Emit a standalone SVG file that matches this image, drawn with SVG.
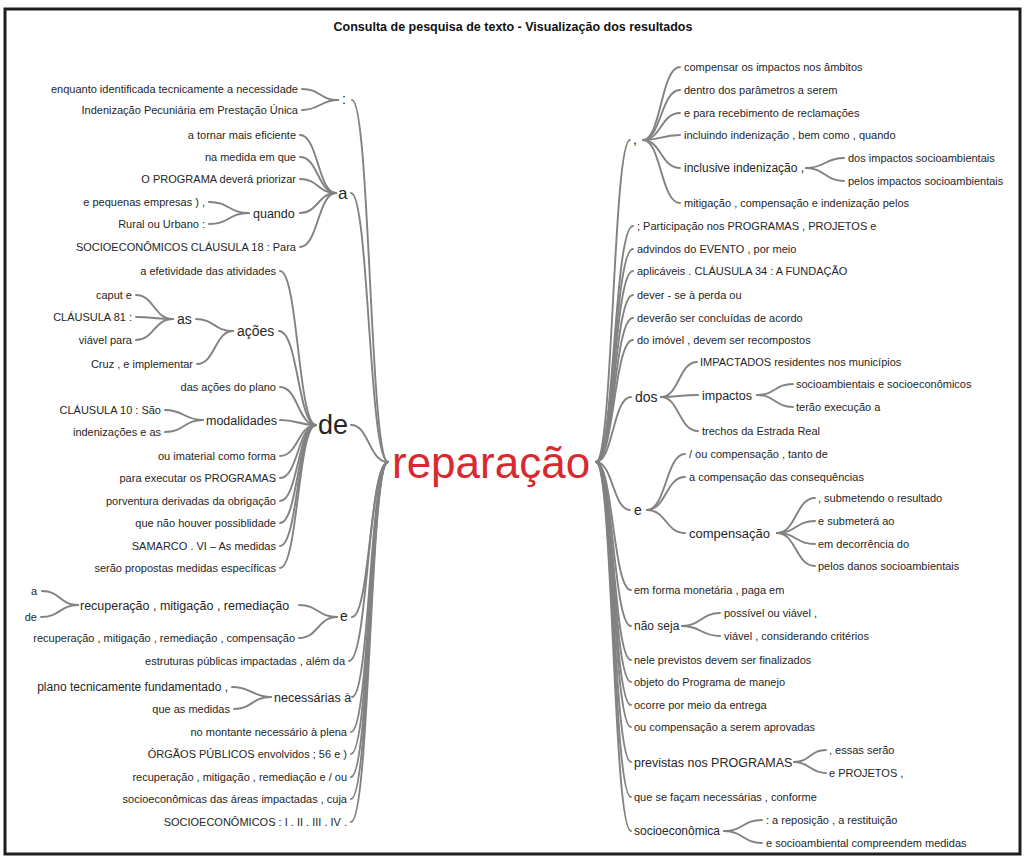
<svg xmlns="http://www.w3.org/2000/svg" width="1026" height="858" viewBox="0 0 1026 858">
<style>
text{font-family:"Liberation Sans",Arial,sans-serif;fill:#262626}
.lf{font-size:11px}
.md{font-size:12.5px}
.lg{font-size:14px}
.e{text-anchor:end}
.title{font-size:12.5px;font-weight:bold;text-anchor:middle;fill:#111}
.root{font-size:44px;fill:#d9282e}
#connectors path{fill:none;stroke:#828282;stroke-width:1.9;stroke-linecap:round}
</style>
<rect x="0" y="0" width="1026" height="858" fill="#ffffff"/>
<rect x="5" y="9" width="1015" height="845" fill="none" stroke="#1e1e1e" stroke-width="3"/>
<text class="title" x="513" y="31">Consulta de pesquisa de texto - Visualização dos resultados</text>

<g id="connectors">
<path d="M302 89 C320 89 320 100 338 100"/>
<path d="M302 110 C320 110 320 100 338 100"/>
<path d="M352 100 C370 100 370 462 388 462"/>
<path d="M209 202 C229 202 229 213 249 213"/>
<path d="M209 224 C229 224 229 213 249 213"/>
<path d="M300 135 C318 135 318 193 336 193"/>
<path d="M300 157 C318 157 318 193 336 193"/>
<path d="M300 179 C318 179 318 193 336 193"/>
<path d="M300 213 C318 213 318 193 336 193"/>
<path d="M300 247 C318 247 318 193 336 193"/>
<path d="M351 193 C369 193 369 462 388 462"/>
<path d="M136 295 C154 295 154 319 173 319"/>
<path d="M136 317 C154 317 154 319 173 319"/>
<path d="M136 340 C154 340 154 319 173 319"/>
<path d="M196 319 C214 319 214 331 233 331"/>
<path d="M197 364 C215 364 215 331 233 331"/>
<path d="M165 410 C184 410 184 420 203 420"/>
<path d="M165 432 C184 432 184 420 203 420"/>
<path d="M280 271 C298 271 298 425 316 425"/>
<path d="M279 331 C298 331 298 425 316 425"/>
<path d="M280 387 C298 387 298 425 316 425"/>
<path d="M280 420 C298 420 298 425 316 425"/>
<path d="M280 456 C298 456 298 425 316 425"/>
<path d="M280 478 C298 478 298 425 316 425"/>
<path d="M280 501 C298 501 298 425 316 425"/>
<path d="M280 523 C298 523 298 425 316 425"/>
<path d="M280 546 C298 546 298 425 316 425"/>
<path d="M280 568 C298 568 298 425 316 425"/>
<path d="M351 425 C369 425 369 462 388 462"/>
<path d="M42 591 C60 591 60 605 78 605"/>
<path d="M41 617 C60 617 60 605 78 605"/>
<path d="M299 605 C318 605 318 617 337 617"/>
<path d="M299 638 C318 638 318 617 337 617"/>
<path d="M352 617 C370 617 370 462 388 462"/>
<path d="M349 661 C368 661 368 462 388 462"/>
<path d="M232 687 C252 687 252 697 271 697"/>
<path d="M234 709 C252 709 252 697 271 697"/>
<path d="M352 697 C370 697 370 462 388 462"/>
<path d="M351 732 C370 732 370 462 388 462"/>
<path d="M351 754 C370 754 370 462 388 462"/>
<path d="M351 777 C370 777 370 462 388 462"/>
<path d="M351 799 C370 799 370 462 388 462"/>
<path d="M351 822 C370 822 370 462 388 462"/>

<path d="M596 462 C613 462 613 140 630 140"/>
<path d="M643 140 C661 140 661 67 680 67"/>
<path d="M643 140 C661 140 661 90 680 90"/>
<path d="M643 140 C661 140 661 113 680 113"/>
<path d="M643 140 C661 140 661 135 680 135"/>
<path d="M643 140 C661 140 661 168 680 168"/>
<path d="M643 140 C661 140 661 203 680 203"/>
<path d="M806 168 C825 168 825 158 844 158"/>
<path d="M806 168 C825 168 825 181 844 181"/>
<path d="M596 462 C614 462 614 226 633 226"/>
<path d="M596 462 C614 462 614 249 633 249"/>
<path d="M596 462 C614 462 614 271 633 271"/>
<path d="M596 462 C614 462 614 295 633 295"/>
<path d="M596 462 C614 462 614 318 633 318"/>
<path d="M596 462 C614 462 614 340 633 340"/>
<path d="M596 462 C613 462 613 397 631 397"/>
<path d="M661 397 C679 397 679 362 697 362"/>
<path d="M661 397 C679 397 679 395 698 395"/>
<path d="M661 397 C679 397 679 431 698 431"/>
<path d="M757 395 C775 395 775 384 793 384"/>
<path d="M757 395 C775 395 775 407 793 407"/>
<path d="M596 462 C613 462 613 510 630 510"/>
<path d="M647 510 C666 510 666 454 685 454"/>
<path d="M647 510 C666 510 666 477 685 477"/>
<path d="M647 510 C666 510 666 533 685 533"/>
<path d="M777 533 C796 533 796 498 815 498"/>
<path d="M777 533 C796 533 796 521 815 521"/>
<path d="M777 533 C796 533 796 544 815 544"/>
<path d="M777 533 C796 533 796 566 815 566"/>
<path d="M596 462 C613 462 613 590 631 590"/>
<path d="M596 462 C613 462 613 626 631 626"/>
<path d="M682 626 C701 626 701 613 720 613"/>
<path d="M682 626 C701 626 701 636 720 636"/>
<path d="M596 462 C613 462 613 660 631 660"/>
<path d="M596 462 C613 462 613 682 631 682"/>
<path d="M596 462 C613 462 613 705 631 705"/>
<path d="M596 462 C613 462 613 727 631 727"/>
<path d="M596 462 C613 462 613 762 631 762"/>
<path d="M794 762 C810 762 810 750 826 750"/>
<path d="M794 762 C810 762 810 773 826 773"/>
<path d="M596 462 C613 462 613 797 631 797"/>
<path d="M596 462 C613 462 613 831 631 831"/>
<path d="M724 831 C743 831 743 820 762 820"/>
<path d="M724 831 C743 831 743 843 762 843"/>
</g>

<g id="root"><text class="root" x="392" y="478">reparação</text></g>

<g id="n-colon">
<text class="lf e" x="298" y="93">enquanto identificada tecnicamente a necessidade</text>
<text class="lf e" x="298" y="114">Indenização Pecuniária em Prestação Única</text>
<text class="lg" x="342" y="104">:</text>
</g>
<g id="n-a">
<text class="lf e" x="296" y="139">a tornar mais eficiente</text>
<text class="lf e" x="296" y="161">na medida em que</text>
<text class="lf e" x="296" y="183">O PROGRAMA deverá priorizar</text>
<text class="lf e" x="205" y="206">e pequenas empresas ) ,</text>
<text class="lf e" x="205" y="228">Rural ou Urbano :</text>
<text class="md" x="253" y="217.5">quando</text>
<text class="lf e" x="296" y="251">SOCIOECONÔMICOS CLÁUSULA 18 : Para</text>
<text style="font-size:17px" x="338" y="199">a</text>
</g>
<g id="n-de">
<text class="lf e" x="276" y="275">a efetividade das atividades</text>
<text class="lf e" x="132" y="299">caput e</text>
<text class="lf e" x="132" y="321">CLÁUSULA 81 :</text>
<text class="lf e" x="132" y="344">viável para</text>
<text class="lg" x="177" y="324">as</text>
<text class="lg" x="237" y="336">ações</text>
<text class="lf e" x="193" y="368">Cruz , e implementar</text>
<text class="lf e" x="276" y="391">das ações do plano</text>
<text class="lf e" x="161" y="414">CLÁUSULA 10 : São</text>
<text class="lf e" x="161" y="436">indenizações e as</text>
<text class="md" x="206" y="424.5">modalidades</text>
<text class="lf e" x="276" y="460">ou imaterial como forma</text>
<text class="lf e" x="276" y="482">para executar os PROGRAMAS</text>
<text class="lf e" x="276" y="505">porventura derivadas da obrigação</text>
<text class="lf e" x="276" y="527">que não houver possiblidade</text>
<text class="lf e" x="276" y="550">SAMARCO . VI – As medidas</text>
<text class="lf e" x="276" y="572">serão propostas medidas específicas</text>
<text style="font-size:27px" x="318" y="434">de</text>
</g>
<g id="n-e">
<text class="lf e" x="37" y="595">a</text>
<text class="lf e" x="37" y="621">de</text>
<text class="md" x="80" y="609.5">recuperação , mitigação , remediação</text>
<text class="lf e" x="295" y="642">recuperação , mitigação , remediação , compensação</text>
<text class="lg" x="340" y="621">e</text>
</g>
<g id="n-estruturas"><text class="lf e" x="345" y="665">estruturas públicas impactadas , além da</text></g>
<g id="n-necessarias">
<text style="font-size:12px" class="e" x="228" y="691">plano tecnicamente fundamentado ,</text>
<text class="lf e" x="230" y="713">que as medidas</text>
<text class="md" x="274" y="701.5">necessárias à</text>
</g>
<g id="n-left-leaves">
<text class="lf e" x="347" y="736">no montante necessário à plena</text>
<text class="lf e" x="347" y="758">ÓRGÃOS PÚBLICOS envolvidos ; 56 e )</text>
<text class="lf e" x="347" y="781">recuperação , mitigação , remediação e / ou</text>
<text class="lf e" x="347" y="803">socioeconômicas das áreas impactadas , cuja</text>
<text class="lf e" x="347" y="826">SOCIOECONÔMICOS : I . II . III . IV .</text>
</g>

<g id="n-comma">
<text class="lg" x="633" y="144">,</text>
<text class="lf" x="684" y="71">compensar os impactos nos âmbitos</text>
<text class="lf" x="684" y="94">dentro dos parâmetros a serem</text>
<text class="lf" x="684" y="117">e para recebimento de reclamações</text>
<text class="lf" x="684" y="139">incluindo indenização , bem como , quando</text>
<text style="font-size:12px" x="684" y="172">inclusive indenização ,</text>
<text class="lf" x="848" y="162">dos impactos socioambientais</text>
<text class="lf" x="848" y="185">pelos impactos socioambientais</text>
<text class="lf" x="684" y="207">mitigação , compensação e indenização pelos</text>
</g>
<g id="n-right-leaves-top">
<text class="lf" x="637" y="230">; Participação nos PROGRAMAS , PROJETOS e</text>
<text class="lf" x="637" y="253">advindos do EVENTO , por meio</text>
<text class="lf" x="637" y="275">aplicáveis . CLÁUSULA 34 : A FUNDAÇÃO</text>
<text class="lf" x="637" y="299">dever - se à perda ou</text>
<text class="lf" x="637" y="322">deverão ser concluídas de acordo</text>
<text class="lf" x="637" y="344">do imóvel , devem ser recompostos</text>
</g>
<g id="n-dos">
<text class="lg" x="635" y="402">dos</text>
<text class="lf" x="700" y="366">IMPACTADOS residentes nos municípios</text>
<text class="md" x="702" y="399.5">impactos</text>
<text class="lf" x="796" y="388">socioambientais e socioeconômicos</text>
<text class="lf" x="796" y="411">terão execução a</text>
<text class="lf" x="702" y="435">trechos da Estrada Real</text>
</g>
<g id="n-e-right">
<text class="lg" x="634" y="515">e</text>
<text class="lf" x="689" y="458">/ ou compensação , tanto de</text>
<text class="lf" x="689" y="481">a compensação das consequências</text>
<text style="font-size:13px" x="689" y="538">compensação</text>
<text class="lf" x="818" y="502">, submetendo o resultado</text>
<text class="lf" x="818" y="525">e submeterá ao</text>
<text class="lf" x="818" y="548">em decorrência do</text>
<text class="lf" x="818" y="570">pelos danos socioambientais</text>
</g>
<g id="n-right-lower">
<text class="lf" x="634" y="594">em forma monetária , paga em</text>
<text style="font-size:12px" x="634" y="630">não seja</text>
<text class="lf" x="724" y="617">possível ou viável ,</text>
<text class="lf" x="724" y="640">viável , considerando critérios</text>
<text class="lf" x="634" y="664">nele previstos devem ser finalizados</text>
<text class="lf" x="634" y="686">objeto do Programa de manejo</text>
<text class="lf" x="634" y="709">ocorre por meio da entrega</text>
<text class="lf" x="634" y="731">ou compensação a serem aprovadas</text>
</g>
<g id="n-previstas">
<text class="md" x="634" y="766.5">previstas nos PROGRAMAS</text>
<text class="lf" x="829" y="754">, essas serão</text>
<text class="lf" x="829" y="777">e PROJETOS ,</text>
</g>
<g id="n-que"><text class="lf" x="634" y="801">que se façam necessárias , conforme</text></g>
<g id="n-socio">
<text style="font-size:12px" x="634" y="835">socioeconômica</text>
<text class="lf" x="766" y="824">: a reposição , a restituição</text>
<text class="lf" x="766" y="847">e socioambiental compreendem medidas</text>
</g>
</svg>
